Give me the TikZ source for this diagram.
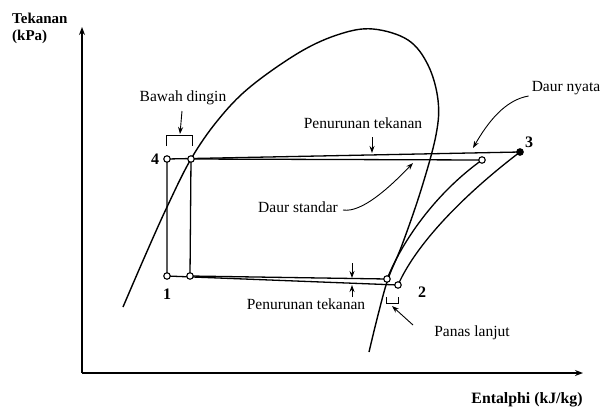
\documentclass[tikz,border=0pt]{standalone}
\usepackage{fontspec}
\setmainfont{Liberation Serif}
\usetikzlibrary{arrows.meta}
\begin{document}
\begin{tikzpicture}[x=1pt,y=-1pt,
  lbl/.style={font=\fontsize{15.5}{18}\selectfont, inner sep=0pt},
  bl/.style={font=\fontsize{15}{18}\selectfont\bfseries, inner sep=0pt},
  blx/.style={font=\fontsize{15.8}{18}\selectfont\bfseries, inner sep=0pt},
  num/.style={font=\fontsize{16}{18}\selectfont\bfseries, inner sep=0pt},
  axis/.style={line width=1.5pt, -{Stealth[length=8pt,width=6pt]}},
  cyc/.style={line width=1.3pt},
  dome/.style={line width=1.4pt},
  lead/.style={line width=0.9pt, -{Stealth[length=7pt,width=5pt]}},
  brk/.style={line width=0.9pt},
  opn/.style={circle, draw, line width=1.1pt, fill=white, minimum size=6.5pt, inner sep=0pt},
  fil/.style={circle, draw, line width=1.1pt, fill=black, minimum size=6.5pt, inner sep=0pt}]
\useasboundingbox (0,0) rectangle (603,408);
% axes
\coordinate (O) at (82,373);
\coordinate (ytip) at (82,27);
\coordinate (xtip) at (583,373);
\draw[axis] (O) -- (ytip);
\draw[axis] (O) -- (xtip);
\node[bl, anchor=west] (tek) at (12,18) {Tekanan};
\node[bl, anchor=west] (kpa) at (12,37) {(kPa)};
\node[blx] (ent) at (527,400) {Entalphi (kJ/kg)};
% saturation dome
\draw[dome] plot[smooth, tension=0.6] coordinates {(123,307) (145,256) (167,207) (191,159) (218,120) (250,87) (300,52) (340,34) (373,29) (408,40) (428,65) (438,100) (436,135) (421,190) (402,245) (388,279) (378,315) (369,352)};
% points
\coordinate (p4) at (167,159);
\coordinate (p4s) at (191,159);
\coordinate (p1) at (167,276);
\coordinate (p1s) at (190,276);
\coordinate (p3) at (520,152);
\coordinate (p3s) at (482,160);
\coordinate (p2s) at (387,279);
\coordinate (p2) at (398,285);
% real cycle
\draw[cyc] (p4) -- (p3);
\draw[cyc] (p2) .. controls (418,240) and (470,190) .. (p3);
\draw[cyc] (p2) -- (p1) -- (p4);
% standard cycle
\draw[cyc] (p4s) -- (p3s);
\draw[cyc] (p2s) .. controls (405,235) and (440,190) .. (p3s);
\draw[cyc] (p2s) -- (p1s) -- (p4s);
% point markers
\node[opn] (n4) at (p4) {};
\node[opn] (n4s) at (p4s) {};
\node[opn] (n1) at (p1) {};
\node[opn] (n1s) at (p1s) {};
\node[fil] (n3) at (p3) {};
\node[opn] (n3s) at (p3s) {};
\node[opn] (n2s) at (p2s) {};
\node[opn] (n2) at (p2) {};
\node[num] (l4) at (155,159) {4};
\node[num] (l1) at (167,294) {1};
\node[num] (l3) at (529,142) {3};
\node[num] (l2) at (422,292) {2};
% Bawah dingin
\node[lbl] (bd) at (183,98) {Bawah dingin};
\coordinate (bdtip) at (180,134);
\draw[lead] (182,111) -- (bdtip);
\draw[brk] (166,146) -- (166,135) -- (192,135) -- (192,146);
% Penurunan tekanan (upper)
\node[lbl] (pt1) at (363,123) {Penurunan tekanan};
\coordinate (pt1tip) at (372,153);
\draw[lead] (372,137) -- (pt1tip);
% Penurunan tekanan (lower)
\node[lbl] (pt2) at (306,304) {Penurunan tekanan};
\coordinate (pt2a) at (352,278);
\coordinate (pt2b) at (352,285);
\draw[lead] (352,263) -- (pt2a);
\draw[lead] (352,297) -- (pt2b);
% Daur standar
\node[lbl] (ds) at (298,207) {Daur standar};
\coordinate (dstip) at (413,163);
\draw[lead] (ds.east) ++(5,3) .. controls (362,213) and (390,187) .. (dstip);
% Daur nyata
\node[lbl] (dn) at (566,88) {Daur nyata};
\coordinate (dntip) at (473,148);
\draw[lead] (dn.west) ++(-3,8) .. controls (505,100) and (488,122) .. (dntip);
% Panas lanjut
\node[lbl] (pl) at (472,333) {Panas lanjut};
\coordinate (pltip) at (392,306);
\draw[lead] (413,325) -- (pltip);
\draw[brk] (386,297) -- (386,303) -- (398,303) -- (398,297);
\end{tikzpicture}
\end{document}
